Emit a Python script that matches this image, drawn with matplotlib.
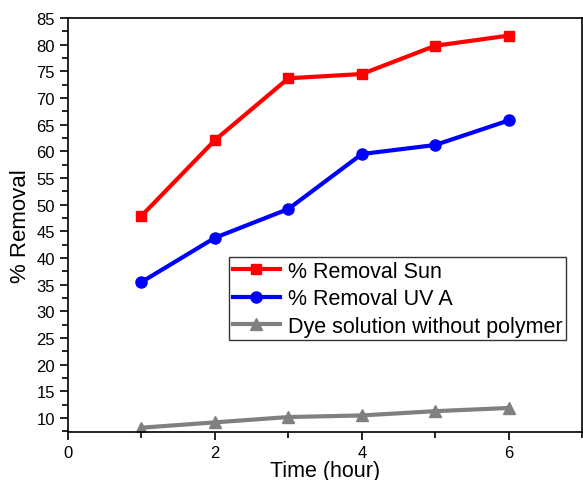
import matplotlib
matplotlib.use("Agg")
import matplotlib.pyplot as plt
from matplotlib.ticker import MultipleLocator

plt.rcParams['font.family'] = ['Liberation Sans', 'DejaVu Sans']

# datos
tiempo = [1, 2, 3, 4, 5, 6]
remocion_sol = [47.9, 62.1, 73.7, 74.5, 79.8, 81.7]
remocion_uva = [35.5, 43.8, 49.2, 59.5, 61.2, 65.8]
sin_polimero = [8.2, 9.2, 10.2, 10.5, 11.3, 11.9]

fig = plt.figure(figsize=(5.83, 4.81), dpi=100)
ax = fig.add_axes([0.1166, 0.1004, 0.882, 0.8601])

ax.plot(tiempo, remocion_sol, color='#ff0000', lw=3, marker='s', ms=7.5,
        label='% Removal Sun')
ax.plot(tiempo, remocion_uva, color='#0000ff', lw=3, marker='o', ms=8,
        label='% Removal UV A')
ax.plot(tiempo, sin_polimero, color='#808080', lw=3, marker='^', ms=8,
        label='Dye solution without polymer')

ax.set_xlim(0, 7)
ax.set_ylim(7.45, 85)
ax.set_xticks([0, 2, 4, 6])
ax.xaxis.set_minor_locator(MultipleLocator(1))
ax.set_yticks(range(10, 86, 5))
ax.yaxis.set_minor_locator(MultipleLocator(2.5))
ax.tick_params(which='both', direction='out', labelsize=12, width=1.2)
ax.tick_params(which='major', length=6)
ax.tick_params(which='minor', length=4)
for s in ax.spines.values():
    s.set_linewidth(1.2)

#la etiqueta del eje x queda casi en el borde, como en el original
ax.set_xlabel('Time (hour)', fontsize=15.5, labelpad=0)
ax.set_ylabel('% Removal', fontsize=16, labelpad=4)

leg = ax.legend(loc='upper left', bbox_to_anchor=(0.313, 0.422), borderaxespad=0,
                fontsize=15.5, frameon=True, fancybox=False, edgecolor='black',
                handlelength=2.2, handletextpad=0.37, labelspacing=0.3,
                borderpad=0.17)
leg.get_frame().set_linewidth(1.0)

fig.savefig('out.png', dpi=100)
